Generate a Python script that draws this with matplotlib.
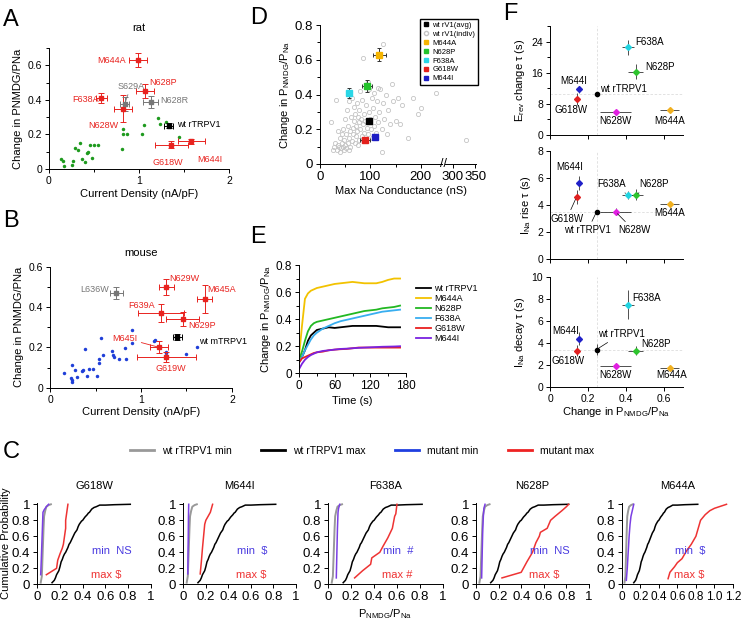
import numpy as np
import matplotlib
matplotlib.use("Agg")
import matplotlib.pyplot as plt
from matplotlib.lines import Line2D
from matplotlib.ticker import MultipleLocator

plt.rcParams['font.family'] = ['Liberation Sans', 'DejaVu Sans']
plt.rcParams['mathtext.fontset'] = 'custom'
plt.rcParams['mathtext.rm'] = 'Liberation Sans'
plt.rcParams['mathtext.it'] = 'Liberation Sans:italic'
plt.rcParams['axes.linewidth'] = 0.7

W, H = 741, 622

RED = '#e8231f'
GRAY = '#777777'

# ---------- A : rat ----------
rat_wt_x = [0.13, 0.15, 0.17, 0.25, 0.27, 0.29, 0.32, 0.34, 0.37, 0.40, 0.42, 0.43, 0.46,
            0.48, 0.50, 0.54, 0.81, 0.82, 0.82, 0.87, 1.03, 1.05, 1.21, 1.23, 1.30, 1.45]
rat_wt_y = [0.058, 0.046, 0.02, 0.023, 0.046, 0.12, 0.11, 0.15, 0.058, 0.04, 0.09, 0.10, 0.137,
            0.064, 0.137, 0.137, 0.115, 0.23, 0.20, 0.20, 0.20, 0.254, 0.297, 0.26, 0.273, 0.187]

rat_mut_names = ['M644A', 'N628P', 'F638A', 'N628W', 'G618W', 'M644I']
rat_mut_x = [0.99, 1.07, 0.58, 0.82, 1.36, 1.58]
rat_mut_y = [0.63, 0.45, 0.41, 0.35, 0.14, 0.16]
rat_mut_xerr = [0.10, 0.10, 0.06, 0.10, 0.18, 0.15]
rat_mut_yerr = [0.04, 0.04, 0.03, 0.08, 0.02, 0.015]
rat_mut_lx = [0.69, 1.27, 0.41, 0.60, 1.32, 1.79]
rat_mut_ly = [0.63, 0.50, 0.40, 0.254, 0.039, 0.056]

rat_gray_names = ['S629A', 'N628R']
rat_gray_x = [0.84, 1.13]
rat_gray_y = [0.375, 0.39]
rat_gray_xerr = [0.05, 0.08]
rat_gray_yerr = [0.04, 0.035]
rat_gray_lx = [0.91, 1.24]
rat_gray_ly = [0.48, 0.395]

rat_wt_avg = (1.33, 0.25, 0.05, 0.015)

# ---------- B : mouse ----------
mouse_wt_x = [0.154, 0.24, 0.23, 0.24, 0.24, 0.27, 0.30, 0.35, 0.36, 0.38, 0.41, 0.43, 0.47, 0.52,
              0.535, 0.54, 0.56, 0.58, 0.68, 0.69, 0.70, 0.76, 0.83, 0.82, 0.90, 0.90, 1.15, 1.14,
              1.27, 1.27, 1.50, 1.62]
mouse_wt_y = [0.071, 0.112, 0.05, 0.038, 0.027, 0.09, 0.055, 0.083, 0.086, 0.193, 0.058, 0.094,
              0.091, 0.06, 0.121, 0.144, 0.245, 0.162, 0.182, 0.161, 0.154, 0.141, 0.141, 0.198,
              0.285, 0.223, 0.236, 0.23, 0.177, 0.17, 0.165, 0.203]

mouse_mut_names = ['N629W', 'M645A', 'F639A', 'N629P', 'M645I', 'G619W']
mouse_mut_x = [1.28, 1.70, 1.22, 1.46, 1.20, 1.28]
mouse_mut_y = [0.50, 0.44, 0.37, 0.34, 0.20, 0.15]
mouse_mut_xerr = [0.08, 0.08, 0.25, 0.18, 0.10, 0.32]
mouse_mut_yerr = [0.04, 0.07, 0.045, 0.035, 0.03, 0.025]
mouse_mut_lx = [1.48, 1.89, 1.01, 1.67, 0.82, 1.33]
mouse_mut_ly = [0.54, 0.485, 0.41, 0.31, 0.246, 0.093]

mouse_gray = ('L636W', 0.73, 0.47, 0.07, 0.03, 0.49, 0.485)
mouse_wt_avg = (1.40, 0.25, 0.05, 0.015)

# ---------- D ----------
indiv_g = [22, 25, 28, 30, 32, 33, 35, 36, 38, 40, 40, 42, 43, 44, 45, 46, 47, 48, 50, 50, 52, 52,
           53, 55, 55, 57, 58, 58, 60, 60, 62, 63, 64, 65, 66, 67, 68, 69, 70, 71, 72, 73, 74, 75,
           76, 77, 78, 78, 80, 80, 82, 83, 84, 85, 85, 87, 88, 89, 90, 92, 93, 95, 96, 97, 98, 100,
           101, 103, 104, 105, 107, 108, 110, 112, 113, 115, 116, 118, 120, 122, 122, 124, 125, 127,
           130, 132, 135, 138, 142, 145, 150, 155, 158, 163, 175, 185, 195, 200, 230, 330]
indiv_p = [0.24, 0.08, 0.10, 0.12, 0.37, 0.08, 0.11, 0.19, 0.10, 0.07, 0.15, 0.09, 0.12, 0.17, 0.10,
           0.20, 0.08, 0.14, 0.11, 0.26, 0.09, 0.17, 0.31, 0.12, 0.22, 0.15, 0.08, 0.36, 0.10, 0.19,
           0.27, 0.13, 0.38, 0.21, 0.17, 0.33, 0.25, 0.12, 0.29, 0.16, 0.22, 0.35, 0.19, 0.11, 0.27,
           0.24, 0.14, 0.31, 0.20, 0.42, 0.26, 0.16, 0.37, 0.23, 0.61, 0.18, 0.29, 0.13, 0.25, 0.34,
           0.21, 0.47, 0.17, 0.30, 0.43, 0.26, 0.20, 0.38, 0.15, 0.32, 0.22, 0.41, 0.27, 0.18, 0.36,
           0.44, 0.24, 0.30, 0.43, 0.07, 0.20, 0.35, 0.69, 0.26, 0.40, 0.17, 0.31, 0.23, 0.46, 0.36,
           0.25, 0.38, 0.23, 0.34, 0.15, 0.38, 0.29, 0.32, 0.41, 0.14]

d_names = ['M644A', 'N628P', 'F638A', 'G618W', 'M644I']
d_colors = ['#f5b400', '#22c32a', '#2bd6e6', '#e3201c', '#1c1cc4']
d_g = [118, 93, 57, 90, 110]
d_gerr = [12, 10, 4, 10, 5]
d_p = [0.63, 0.45, 0.41, 0.14, 0.155]
d_perr = [0.04, 0.035, 0.03, 0.015, 0.01]
d_wt = (97, 0.245)

# ---------- E ----------
t_e = [0, 5, 10, 15, 20, 25, 30, 40, 50, 60, 70, 80, 90, 100, 110, 120, 130, 140, 150, 160, 170]
e_names = ['wt rTRPV1', 'M644A', 'N628P', 'F638A', 'G618W', 'M644I']
e_colors = ['black', '#f2c200', '#22b822', '#38aef0', '#e82020', '#7a22e0']
e_vals = [
    [0.08, 0.12, 0.17, 0.24, 0.28, 0.30, 0.32, 0.33, 0.34, 0.335, 0.34, 0.345, 0.35, 0.35, 0.35,
     0.35, 0.35, 0.345, 0.34, 0.34, 0.34],
    [0.12, 0.35, 0.55, 0.59, 0.61, 0.62, 0.63, 0.64, 0.65, 0.66, 0.665, 0.67, 0.675, 0.67, 0.665,
     0.665, 0.665, 0.675, 0.69, 0.70, 0.70],
    [0.10, 0.16, 0.24, 0.31, 0.35, 0.37, 0.38, 0.39, 0.40, 0.41, 0.42, 0.43, 0.44, 0.45, 0.46,
     0.465, 0.47, 0.48, 0.485, 0.49, 0.50],
    [0.08, 0.12, 0.17, 0.21, 0.25, 0.28, 0.30, 0.33, 0.35, 0.37, 0.385, 0.395, 0.405, 0.415, 0.425,
     0.435, 0.445, 0.455, 0.46, 0.465, 0.47],
    [0.08, 0.11, 0.12, 0.13, 0.14, 0.15, 0.155, 0.16, 0.17, 0.175, 0.178, 0.18, 0.185, 0.19, 0.19,
     0.19, 0.19, 0.19, 0.19, 0.19, 0.19],
    [0.03, 0.07, 0.10, 0.12, 0.135, 0.145, 0.155, 0.165, 0.17, 0.175, 0.18, 0.182, 0.185, 0.188,
     0.19, 0.192, 0.194, 0.196, 0.197, 0.198, 0.20],
]

# ---------- F ----------
f_names = ['wt rTRPV1', 'G618W', 'M644I', 'F638A', 'N628P', 'N628W', 'M644A']
f_colors = ['black', '#e02020', '#2020c8', '#22d3e0', '#2ec42e', '#e020e0', '#f0b020']
f_x = [0.245, 0.14, 0.155, 0.41, 0.45, 0.345, 0.63]
f_xerr = [0, 0.015, 0.01, 0.03, 0.04, 0.08, 0.05]
f_erev = [10.5, 9.3, 11.7, 22.5, 16.3, 6.0, 6.5]
f_erev_err = [0, 1.5, 0.8, 2.0, 2.0, 0.5, 0.4]
f_rise = [3.5, 4.6, 5.6, 4.75, 4.75, 3.5, 4.1]
f_rise_err = [0, 0.5, 0.5, 0.3, 0.4, 0.25, 0.15]
f_decay = [3.4, 3.3, 4.4, 7.5, 3.3, 1.9, 1.7]
f_decay_err = [0.5, 0.5, 0.6, 1.3, 0.4, 0.3, 0.1]

# label positions (x, y, ha, leader line?)
f_lab_erev = [(0.263, 11.8, 'left', False), (0.11, 6.4, 'center', False), (0.126, 13.9, 'center', False),
              (0.45, 23.8, 'left', False), (0.50, 17.5, 'left', False), (0.347, 3.7, 'center', False),
              (0.63, 3.7, 'center', False)]
f_lab_rise = [(0.198, 2.13, 'center', True), (0.088, 2.99, 'center', True), (0.105, 6.77, 'center', False),
              (0.326, 5.52, 'center', True), (0.547, 5.52, 'center', True), (0.442, 2.13, 'center', True),
              (0.628, 3.43, 'center', False)]
f_lab_decay = [(0.374, 4.82, 'center', True), (0.093, 2.32, 'center', False), (0.084, 5.12, 'center', False),
               (0.435, 8.13, 'left', False), (0.479, 3.9, 'left', False), (0.342, 1.04, 'center', False),
               (0.638, 1.04, 'center', False)]

# ---------- C ----------
wtmax_x = [0.13, 0.15, 0.16, 0.17, 0.19, 0.20, 0.21, 0.22, 0.23, 0.24, 0.25, 0.26, 0.27, 0.28, 0.29,
           0.30, 0.31, 0.32, 0.33, 0.34, 0.35, 0.36, 0.37, 0.38, 0.39, 0.40, 0.41, 0.42, 0.44, 0.45,
           0.46, 0.47, 0.48, 0.50, 0.52, 0.55, 0.60, 0.68, 0.82]
wtmax_p = [0.02, 0.05, 0.08, 0.12, 0.17, 0.22, 0.28, 0.31, 0.35, 0.38, 0.40, 0.43, 0.46, 0.50, 0.52,
           0.55, 0.58, 0.61, 0.64, 0.66, 0.68, 0.72, 0.75, 0.77, 0.79, 0.80, 0.82, 0.84, 0.87, 0.89,
           0.90, 0.92, 0.94, 0.96, 0.97, 0.99, 0.99, 0.995, 1.0]
wtmin_x = [0.03, 0.04, 0.045, 0.05, 0.055, 0.06, 0.07, 0.08, 0.10, 0.12]
wtmin_p = [0.02, 0.10, 0.30, 0.50, 0.70, 0.85, 0.92, 0.97, 0.99, 1.0]

c_names = ['G618W', 'M644I', 'F638A', 'N628P', 'M644A']
c_min_x = [[0.03, 0.035, 0.04, 0.045, 0.05, 0.06, 0.08, 0.10],
           [0.04, 0.042, 0.044, 0.046, 0.048],
           [0.07, 0.075, 0.08, 0.085, 0.09, 0.10],
           [0.05, 0.055, 0.06, 0.065, 0.07, 0.08],
           [0.05, 0.06, 0.07, 0.08, 0.09, 0.10, 0.12, 0.13]]
c_min_p = [[0.12, 0.3, 0.5, 0.7, 0.9, 0.93, 0.97, 1.0],
           [0.13, 0.4, 0.6, 0.85, 1.0],
           [0.08, 0.4, 0.7, 0.9, 0.95, 1.0],
           [0.08, 0.4, 0.7, 0.85, 0.95, 1.0],
           [0.05, 0.2, 0.4, 0.6, 0.75, 0.85, 0.95, 1.0]]
c_max_x = [[0.08, 0.17, 0.18, 0.20, 0.22, 0.23, 0.24, 0.25, 0.25, 0.26, 0.27],
           [0.15, 0.16, 0.17, 0.18, 0.19, 0.20, 0.22, 0.24, 0.26],
           [0.23, 0.30, 0.37, 0.38, 0.45, 0.48, 0.52, 0.56, 0.58, 0.59, 0.60],
           [0.23, 0.40, 0.45, 0.50, 0.53, 0.56, 0.57, 0.63, 0.66, 0.70, 0.76, 0.80, 0.82],
           [0.50, 0.52, 0.57, 0.60, 0.65, 0.70, 0.75, 0.80, 0.85, 0.90, 0.95, 1.0, 1.13]]
c_max_p = [[0.12, 0.2, 0.3, 0.38, 0.45, 0.5, 0.6, 0.7, 0.8, 0.9, 1.0],
           [0.13, 0.28, 0.45, 0.6, 0.75, 0.8, 0.85, 0.9, 1.0],
           [0.08, 0.17, 0.25, 0.33, 0.40, 0.48, 0.58, 0.70, 0.85, 0.88, 1.0],
           [0.08, 0.15, 0.28, 0.40, 0.52, 0.60, 0.65, 0.70, 0.80, 0.85, 0.92, 0.97, 1.0],
           [0.07, 0.15, 0.22, 0.27, 0.32, 0.42, 0.50, 0.60, 0.80, 0.87, 0.92, 0.95, 1.0]]
c_min_sig = ['NS', '$', '#', 'NS', '$']
c_max_sig = ['$', '$', '#', '$', '$']
c_xmax = [1, 1, 1, 1, 1.2]


def rect(x0, y0, x1, y1):
    return [x0 / W, 1 - y1 / H, (x1 - x0) / W, (y1 - y0) / H]


def style(ax, fs=7.5):
    ax.spines['top'].set_visible(False)
    ax.spines['right'].set_visible(False)
    ax.tick_params(labelsize=fs, length=3, width=0.7, pad=2)
    ax.tick_params(which='minor', length=2, width=0.7)


def lbl(vals):
    return ['%g' % v for v in vals]


fig = plt.figure(figsize=(W / 100, H / 100), dpi=100)
EB = dict(ms=2.5, elinewidth=0.7, capsize=2, capthick=0.7)

# ----- panel A -----
ax = fig.add_axes(rect(49, 48, 229, 169))
style(ax)
ax.plot(rat_wt_x, rat_wt_y, 'o', color='#1e9a1e', ms=2.5, mec='none')
for i, n in enumerate(rat_mut_names):
    ax.errorbar(rat_mut_x[i], rat_mut_y[i], xerr=rat_mut_xerr[i], yerr=rat_mut_yerr[i], fmt='s',
                color=RED, **EB)
    if n == 'N628P':
        ax.annotate(n, (rat_mut_x[i], rat_mut_y[i]), (rat_mut_lx[i], rat_mut_ly[i]), color=RED,
                    fontsize=6.5, ha='center', va='center',
                    arrowprops=dict(arrowstyle='-', color=RED, lw=0.6, shrinkA=1, shrinkB=2))
    else:
        ax.text(rat_mut_lx[i], rat_mut_ly[i], n, color=RED, fontsize=6.5, ha='center', va='center')
for i, n in enumerate(rat_gray_names):
    ax.errorbar(rat_gray_x[i], rat_gray_y[i], xerr=rat_gray_xerr[i], yerr=rat_gray_yerr[i], fmt='s',
                color=GRAY, **EB)
    if n == 'S629A':
        ax.annotate(n, (rat_gray_x[i], rat_gray_y[i]), (rat_gray_lx[i], rat_gray_ly[i]), color=GRAY,
                    fontsize=6.5, ha='center', va='center',
                    arrowprops=dict(arrowstyle='-', color=GRAY, lw=0.6, shrinkA=1, shrinkB=2))
    else:
        ax.text(rat_gray_lx[i], rat_gray_ly[i], n, color=GRAY, fontsize=6.5, ha='left', va='center')
ax.errorbar(rat_wt_avg[0], rat_wt_avg[1], xerr=rat_wt_avg[2], yerr=rat_wt_avg[3], fmt='s', color='black',
            **EB)
ax.text(1.42, 0.26, 'wt rTRPV1', fontsize=6.5, ha='left', va='center')
ax.set_xlim(0, 2)
ax.set_ylim(0, 0.7)
ax.set_xticks([0, 1, 2])
ax.set_xticklabels(lbl([0, 1, 2]))
ax.xaxis.set_minor_locator(MultipleLocator(0.5))
ax.set_yticks([0, 0.2, 0.4, 0.6])
ax.set_yticklabels(lbl([0, 0.2, 0.4, 0.6]))
ax.yaxis.set_minor_locator(MultipleLocator(0.1))
ax.set_xlabel('Current Density (nA/pF)', fontsize=8, labelpad=2)
ax.set_ylabel('Change in PNMDG/PNa', fontsize=8, labelpad=3)
ax.set_title('rat', fontsize=8, pad=12)

# ----- panel B -----
ax = fig.add_axes(rect(50, 266.7, 232, 387.7))
style(ax)
ax.plot(mouse_wt_x, mouse_wt_y, 'o', color='#1f3fd8', ms=2.5, mec='none')
for i, n in enumerate(mouse_mut_names):
    ax.errorbar(mouse_mut_x[i], mouse_mut_y[i], xerr=mouse_mut_xerr[i], yerr=mouse_mut_yerr[i], fmt='s',
                color=RED, **EB)
    if n == 'M645I':
        ax.annotate(n, (mouse_mut_x[i], mouse_mut_y[i]), (mouse_mut_lx[i], mouse_mut_ly[i]), color=RED,
                    fontsize=6.5, ha='center', va='center',
                    arrowprops=dict(arrowstyle='-', color=RED, lw=0.6, shrinkA=1, shrinkB=1))
    else:
        ax.text(mouse_mut_lx[i], mouse_mut_ly[i], n, color=RED, fontsize=6.5, ha='center', va='center')
n, gx, gy, gxe, gye, glx, gly = mouse_gray
ax.errorbar(gx, gy, xerr=gxe, yerr=gye, fmt='s', color=GRAY, **EB)
ax.text(glx, gly, n, color=GRAY, fontsize=6.5, ha='center', va='center')
ax.errorbar(mouse_wt_avg[0], mouse_wt_avg[1], xerr=mouse_wt_avg[2], yerr=mouse_wt_avg[3], fmt='s',
            color='black', **EB)
ax.text(1.64, 0.23, 'wt mTRPV1', fontsize=6.5, ha='left', va='center')
ax.set_xlim(0, 2)
ax.set_ylim(0, 0.6)
ax.set_xticks([0, 1, 2])
ax.set_xticklabels(lbl([0, 1, 2]))
ax.xaxis.set_minor_locator(MultipleLocator(0.5))
ax.set_yticks([0, 0.2, 0.4, 0.6])
ax.set_yticklabels(lbl([0, 0.2, 0.4, 0.6]))
ax.yaxis.set_minor_locator(MultipleLocator(0.1))
ax.set_xlabel('Current Density (nA/pF)', fontsize=8, labelpad=2)
ax.set_ylabel('Change in PNMDG/PNa', fontsize=8, labelpad=3)
ax.set_title('mouse', fontsize=8, pad=8)

# ----- panel D -----
axl = fig.add_axes(rect(320, 25, 442, 164))
axr = fig.add_axes(rect(445, 25, 476, 164))
axr.patch.set_visible(False)
for a in (axl, axr):
    style(a, fs=9.5)
    a.plot(indiv_g, indiv_p, 'o', mfc='none', mec='#c4c4c4', ms=3, mew=0.6)
    a.set_ylim(0, 0.8)
axl.set_xlim(0, 242)
axr.set_xlim(282, 352)
axr.spines['left'].set_visible(False)
axr.set_yticks([])
axr.set_xticks([300, 350])
axr.set_xticklabels(lbl([300, 350]))
axl.set_xticks([0, 100, 200])
axl.set_xticklabels(lbl([0, 100, 200]))
axl.xaxis.set_minor_locator(MultipleLocator(50))
axl.set_yticks([0, 0.2, 0.4, 0.6, 0.8])
axl.set_yticklabels(lbl([0, 0.2, 0.4, 0.6, 0.8]))
axl.yaxis.set_minor_locator(MultipleLocator(0.1))
axl.plot(d_wt[0], d_wt[1], 's', color='black', ms=4)
for i, n in enumerate(d_names):
    axl.errorbar(d_g[i], d_p[i], xerr=d_gerr[i], yerr=d_perr[i], fmt='s', color=d_colors[i], ms=4,
                 ecolor='#333333', elinewidth=0.7, capsize=1.5, capthick=0.7)
hd = [Line2D([], [], ls='none', marker='s', color='black', ms=3.5),
      Line2D([], [], ls='none', marker='o', mfc='none', mec='#c4c4c4', ms=3)] + \
     [Line2D([], [], ls='none', marker='s', color=c, ms=3.5) for c in d_colors]
axr.legend(hd, ['wt rV1(avg)', 'wt rV1(indiv)'] + d_names, loc='upper right',
           bbox_to_anchor=(478 / W, 1 - 19 / H), bbox_transform=fig.transFigure, fontsize=5.5,
           frameon=True, fancybox=False, edgecolor='black', framealpha=1, handlelength=0.8,
           handletextpad=0.5, borderpad=0.35, labelspacing=0.2, borderaxespad=0)
axl.set_xlabel('Max Na Conductance (nS)', fontsize=8, labelpad=2)
axl.xaxis.set_label_coords(0.66, -0.16)
axl.set_ylabel(r'Change in P$_{\mathrm{NMDG}}$/P$_{\mathrm{Na}}$', fontsize=8, labelpad=2)
fig.text(443.5 / W, 1 - 164 / H, '//', fontsize=9, ha='center', va='center')

# ----- panel E -----
ax = fig.add_axes(rect(299, 265, 406, 373.3))
style(ax, fs=8.5)
for i, n in enumerate(e_names):
    ax.plot(t_e, e_vals[i], color=e_colors[i], lw=1.3, label=n)
ax.set_xlim(0, 180)
ax.set_ylim(0, 0.8)
ax.set_xticks([0, 60, 120, 180])
ax.set_xticklabels(lbl([0, 60, 120, 180]))
ax.xaxis.set_minor_locator(MultipleLocator(30))
ax.set_yticks([0, 0.2, 0.4, 0.6, 0.8])
ax.set_yticklabels(lbl([0, 0.2, 0.4, 0.6, 0.8]))
ax.yaxis.set_minor_locator(MultipleLocator(0.1))
ax.set_xlabel('Time (s)', fontsize=8, labelpad=3)
ax.set_ylabel(r'Change in P$_{\mathrm{NMDG}}$/P$_{\mathrm{Na}}$', fontsize=8, labelpad=2)
ax.legend(loc='center left', bbox_to_anchor=(1.02, 0.55), fontsize=6.5, frameon=False,
          handlelength=1.6, handletextpad=0.4, labelspacing=0.1)

# ----- panel F -----
f_rects = [rect(550, 26, 683, 135), rect(550, 150.7, 683, 259.3), rect(550, 277.3, 683, 386.7)]
f_data = [(f_erev, f_erev_err, f_lab_erev, 28, [0, 8, 16, 24], 4, r'E$_{\mathrm{rev}}$ change τ (s)'),
          (f_rise, f_rise_err, f_lab_rise, 8, [0, 2, 4, 6, 8], None, r'I$_{\mathrm{Na}}$ rise τ (s)'),
          (f_decay, f_decay_err, f_lab_decay, 10, [0, 2, 4, 6, 8, 10], None, r'I$_{\mathrm{Na}}$ decay τ (s)')]
for k, (vals, errs, labs, ymax, yt, ymin_loc, ylab) in enumerate(f_data):
    ax = fig.add_axes(f_rects[k])
    style(ax)
    ax.axvline(f_x[0], color='#dddddd', lw=0.6, ls=(0, (3, 2)), zorder=0)
    ax.axhline(vals[0], color='#dddddd', lw=0.6, ls=(0, (3, 2)), zorder=0)
    for i, n in enumerate(f_names):
        ax.errorbar(f_x[i], vals[i], xerr=f_xerr[i] if f_xerr[i] else None,
                    yerr=errs[i] if errs[i] else None, fmt='D' if i else 'o', color=f_colors[i], ms=3,
                    ecolor='#333333', elinewidth=0.6, capsize=0)
        lx, ly, ha, line = labs[i]
        if line:
            ax.annotate(n, (f_x[i], vals[i]), (lx, ly), fontsize=7, ha=ha, va='center',
                        arrowprops=dict(arrowstyle='-', color='black', lw=0.5, shrinkA=1, shrinkB=2))
        else:
            ax.text(lx, ly, n, fontsize=7, ha=ha, va='center')
    ax.set_xlim(0, 0.7)
    ax.set_ylim(0, ymax)
    ax.set_yticks(yt)
    ax.set_yticklabels(lbl(yt))
    if ymin_loc:
        ax.yaxis.set_minor_locator(MultipleLocator(ymin_loc))
    ax.set_xticks([0, 0.2, 0.4, 0.6])
    if k < 2:
        ax.set_xticklabels([])
    else:
        ax.set_xticklabels(lbl([0, 0.2, 0.4, 0.6]))
        ax.set_xlabel(r'Change in P$_{\mathrm{NMDG}}$/P$_{\mathrm{Na}}$', fontsize=8, labelpad=1)
    ax.set_ylabel(ylab, fontsize=8, labelpad=3)

# ----- panel C -----
c_x0 = [37.3, 183.3, 328.3, 476, 621.7]
c_x1 = [150.7, 296, 442.7, 589, 733]
MINC = '#7b3fe4'
MAXC = '#ee3333'
for i, n in enumerate(c_names):
    ax = fig.add_axes(rect(c_x0[i], 502.7, c_x1[i], 584.3))
    style(ax, fs=9.5)
    ax.tick_params(axis='x', pad=1.5)
    ax.plot(wtmin_x, wtmin_p, color='#999999', lw=1.4)
    ax.plot(wtmax_x, wtmax_p, color='black', lw=1.1)
    ax.plot(c_min_x[i], c_min_p[i], color=MINC, lw=1.1)
    ax.plot(c_max_x[i], c_max_p[i], color=MAXC, lw=1.1)
    ax.set_xlim(0, c_xmax[i])
    ax.set_ylim(0, 1.02)
    yt = [0, 0.2, 0.4, 0.6, 0.8, 1]
    ax.set_yticks(yt)
    ax.set_yticklabels(lbl(yt))
    if c_xmax[i] == 1:
        xt = [0, 0.2, 0.4, 0.6, 0.8, 1]
        ax.set_xticks(xt)
        ax.set_xticklabels(lbl(xt))
    else:
        xt = [0, 0.2, 0.4, 0.6, 0.8, 1.0, 1.2]
        ax.set_xticks(xt)
        ax.set_xticklabels(['0', '0.2', '0.4', '0.6', '0.8', '1.0', '1.2'], fontsize=8.5)
    ax.set_title(n, fontsize=8, pad=10)
    ax.text(0.48, 0.41, 'min  ' + c_min_sig[i], color='#4a3be0', fontsize=8, transform=ax.transAxes,
            va='center')
    ax.text(0.47, 0.12, 'max ' + c_max_sig[i], color=MAXC, fontsize=8, transform=ax.transAxes,
            va='center')
    if i == 0:
        ax.set_ylabel('Cumulative Probability', fontsize=8, labelpad=1)
    if i == 2:
        ax.set_xlabel(r'P$_{\mathrm{NMDG}}$/P$_{\mathrm{Na}}$', fontsize=8, labelpad=3)

hc = [Line2D([], [], color='#999999', lw=2), Line2D([], [], color='black', lw=2),
      Line2D([], [], color='#1f3fe0', lw=2), Line2D([], [], color='#ee2222', lw=2)]
fig.legend(hc, ['wt rTRPV1 min', 'wt rTRPV1 max', 'mutant min', 'mutant max'], loc='center',
           bbox_to_anchor=(362 / W, 1 - 451 / H), ncol=4, fontsize=7.5, frameon=False,
           handlelength=2.3, columnspacing=2.8, handletextpad=0.8)

# panel letters
for letter, x, y in [('A', 3, 20), ('B', 3, 221), ('D', 250, 18), ('E', 250, 237), ('F', 503, 14),
                     ('C', 3, 452)]:
    fig.text(x / W, 1 - y / H, letter, fontsize=17, ha='left', va='center')

fig.savefig('out.png', dpi=100)
